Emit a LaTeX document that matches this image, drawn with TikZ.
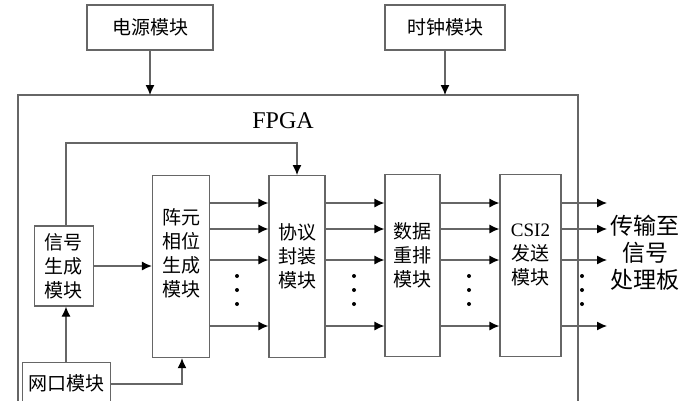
\documentclass[tikz,border=0pt]{standalone}
\usepackage{fontspec}
\usetikzlibrary{arrows.meta}
\setmainfont{Liberation Serif}
\newfontfamily\cjk{Noto Sans CJK SC}
\begin{document}
\begin{tikzpicture}[x=1pt,y=-1pt,
  box/.style={draw=black!60,line width=1.2pt,inner sep=0pt,font=\cjk\fontsize{19}{24}\selectfont,align=center},
  ln/.style={draw=black!60,line width=1.2pt},
  ar/.style={ln,-{Latex[length=10pt,width=9pt,black]}},
  dt/.style={circle,fill=black,inner sep=0pt,minimum size=4pt}]
\useasboundingbox (0,0) rectangle (686,400);
\node[box,minimum width=126pt,minimum height=45pt] (pw) at (150,27.5) {电源模块};
\node[box,minimum width=120pt,minimum height=45pt] (ck) at (445,27.5) {时钟模块};
\draw[ln] (18,402) -- (18,95) -- (578,95) -- (578,402);
\coordinate (fa) at (150,95); \coordinate (fb) at (445,95);
\draw[ar] (pw) -- (fa); \draw[ar] (ck) -- (fb);
\node[font=\fontsize{24}{28}\selectfont] (fp) at (283,121) {FPGA};
\node[box,minimum width=59pt,minimum height=80pt] (sg) at (64,266) {信号\\生成\\模块};
\node[box,minimum width=57pt,minimum height=182pt,anchor=north] (zy) at (181,175) {};
\node[box,draw=none] (zyt) at (181,253) {阵元\\相位\\生成\\模块};
\node[box,minimum width=56pt,minimum height=182pt,anchor=north] (xy) at (297,175) {};
\node[box,draw=none] (xyt) at (297,256) {协议\\封装\\模块};
\node[box,minimum width=55pt,minimum height=182pt,anchor=north] (sj) at (412.5,174) {};
\node[box,draw=none] (sjt) at (412.5,255) {数据\\重排\\模块};
\node[box,minimum width=61pt,minimum height=182pt,anchor=north] (cs) at (530.5,174) {};
\node[box,draw=none] (cst) at (530.5,255) {{\rmfamily CSI2}\\发送\\模块};
\node[box,minimum width=88pt,minimum height=48pt,anchor=north west] (wk) at (22,362) {};
\node[box,draw=none] (wkt) at (66,383) {网口模块};
\node[font=\cjk\fontsize{23}{27}\selectfont,align=center] (out) at (645,253) {传输至\\信号\\处理板};
\draw[ar] (sg.east) -- (zy.west|-sg.east);
\draw[ar] (66,362) -- (sg.south-|66,0);
\draw[ar] (110,384) -- (182,384) -- (zy.south-|182,0);
\draw[ar] (sg.north-|66,0) -- (66,143) -- (297,143) -- (xy.north);
\foreach \y in {203,229,260,326}{
  \draw[ar] (zy.east|-0,\y) -- (xy.west|-0,\y);
  \draw[ar] (xy.east|-0,\y) -- (sj.west|-0,\y);
  \draw[ar] (sj.east|-0,\y) -- (cs.west|-0,\y);
  \coordinate (o\y) at (607,\y);
  \draw[ar] (cs.east|-0,\y) -- (o\y);}
\foreach \x in {237,354,469,582}{\foreach \y in {276,290,304}{\node[dt] at (\x,\y) {};}}
\end{tikzpicture}
\end{document}
